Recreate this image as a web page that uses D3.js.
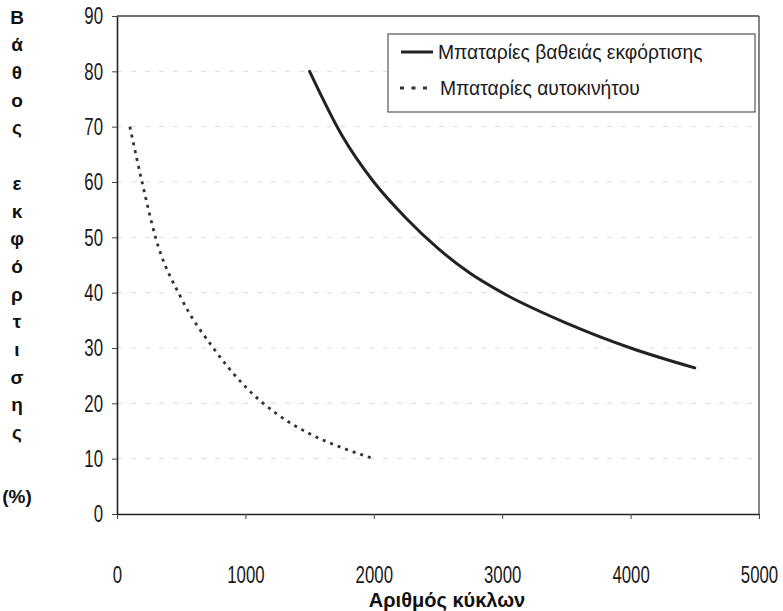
<!DOCTYPE html>
<html>
<head>
<meta charset="utf-8">
<script src="https://cdn.jsdelivr.net/npm/d3@7/dist/d3.min.js"></script>
<style>
  html, body { margin: 0; padding: 0; background: #fff; }
  svg { display: block; }
</style>
</head>
<body>
<svg id="chart" width="783" height="611"></svg>
<script>
// ---- data ----
const xTicks = [0, 1000, 2000, 3000, 4000, 5000];
const yTicks = [0, 10, 20, 30, 40, 50, 60, 70, 80, 90];
const deepCycles = [1500, 1750, 2000, 2250, 2500, 2750, 3000, 3500, 4000, 4500];
const deepDepth  = [80, 68.5, 60, 53.5, 48, 43.5, 40, 34.5, 30, 26.4];
const carCycles  = [100, 200, 300, 500, 750, 1000, 1250, 1500, 1750, 2000];
const carDepth   = [70, 59.5, 50, 39, 30, 23, 18, 14.5, 12, 10];
const seriesNames = ["Μπαταρίες βαθειάς εκφόρτισης", "Μπαταρίες αυτοκινήτου"];
const xTitle = "Αριθμός κύκλων";
const yTitleLines = ["Β","ά","θ","ο","ς","","ε","κ","φ","ό","ρ","τ","ι","σ","η","ς"];
const yUnit = "(%)";

// ---- layout ----
const W = 783, H = 611;
const m = { left: 117, top: 16, right: 24, bottom: 97 };
const iw = W - m.left - m.right, ih = H - m.top - m.bottom;

const svg = d3.select("#chart");
const g = svg.append("g").attr("transform", `translate(${m.left},${m.top})`);

const x = d3.scaleLinear().domain([0, 5000]).range([0, iw]);
const y = d3.scaleLinear().domain([0, 90]).range([ih, 0]);

// faint gridlines
g.append("g").selectAll("line")
  .data(yTicks.filter(v => v > 0 && v < 90))
  .join("line")
  .attr("x1", 0).attr("x2", iw)
  .attr("y1", d => y(d)).attr("y2", d => y(d))
  .attr("stroke", "#dcdcdc").attr("stroke-width", 1)
  .attr("stroke-dasharray", "5,9");

// frame top/right
g.append("line").attr("x1", 0).attr("x2", iw).attr("y1", 0).attr("y2", 0)
  .attr("stroke", "#444").attr("stroke-width", 1.3);
g.append("line").attr("x1", iw).attr("x2", iw).attr("y1", 0).attr("y2", ih)
  .attr("stroke", "#444").attr("stroke-width", 1.3);

const tickFont = "'Liberation Sans',Arial,sans-serif";
const sx = 0.7;

// axes
const fmt = d3.format("d");
const xAxis = g.append("g").attr("transform", `translate(0,${ih})`)
  .call(d3.axisBottom(x).tickValues(xTicks).tickFormat(fmt).tickSize(5).tickPadding(47).tickSizeOuter(0));
const yAxis = g.append("g")
  .call(d3.axisLeft(y).tickValues(yTicks).tickFormat(fmt).tickSize(5).tickPadding(9).tickSizeOuter(0));

[xAxis, yAxis].forEach(a => {
  a.select(".domain").attr("stroke", "#222").attr("stroke-width", 1.6);
  a.selectAll(".tick line").attr("stroke", "#444").attr("stroke-width", 1);
  a.selectAll(".tick text")
    .attr("fill", "#1a1a1a")
    .style("font-family", tickFont)
    .style("font-size", "24px")
    .attr("transform", `scale(${sx},1)`);
});
yAxis.selectAll(".tick text").attr("x", -14 / sx);

// lines
const deep = deepCycles.map((c, i) => [c, deepDepth[i]]);
const car = carCycles.map((c, i) => [c, carDepth[i]]);
const line = d3.line().x(d => x(d[0])).y(d => y(d[1])).curve(d3.curveMonotoneX);

g.append("path").datum(car).attr("d", line)
  .attr("fill", "none").attr("stroke", "#333").attr("stroke-width", 2.8)
  .attr("stroke-dasharray", "3,5");
g.append("path").datum(deep).attr("d", line)
  .attr("fill", "none").attr("stroke", "#222").attr("stroke-width", 3)
  .attr("stroke-linecap", "round");

// legend
const lg = svg.append("g").attr("transform", "translate(388,34)");
lg.append("rect").attr("width", 367).attr("height", 78)
  .attr("fill", "#fff").attr("stroke", "#555").attr("stroke-width", 1.2);
const legFont = "'Liberation Sans',Arial,sans-serif";
lg.append("line").attr("x1", 13).attr("x2", 45).attr("y1", 18).attr("y2", 18)
  .attr("stroke", "#222").attr("stroke-width", 3);
lg.append("line").attr("x1", 12).attr("x2", 40).attr("y1", 54).attr("y2", 54)
  .attr("stroke", "#333").attr("stroke-width", 3).attr("stroke-dasharray", "4,7.5");
lg.selectAll("text.leg").data(seriesNames).join("text")
  .attr("class", "leg")
  .attr("x", (d, i) => i === 0 ? 50 : 52)
  .attr("y", (d, i) => i === 0 ? 18 : 54)
  .attr("dy", "0.35em")
  .style("font-family", legFont).style("font-size", "19.3px")
  .attr("fill", "#1a1a1a")
  .text(d => d);

// x title
svg.append("text")
  .attr("x", 447).attr("y", 600).attr("dy", "0.35em")
  .attr("text-anchor", "middle")
  .style("font-family", legFont).style("font-size", "20px").style("font-weight", "bold")
  .attr("fill", "#111")
  .text(xTitle);

// y title (stacked letters)
svg.append("g").selectAll("text").data(yTitleLines).join("text")
  .attr("x", 17).attr("y", (d, i) => 17 + i * 27.7).attr("dy", "0.35em")
  .attr("text-anchor", "middle")
  .style("font-family", legFont).style("font-size", "19px").style("font-weight", "bold")
  .attr("fill", "#111")
  .text(d => d);
svg.append("text").attr("x", 17).attr("y", 496).attr("dy", "0.35em")
  .attr("text-anchor", "middle")
  .style("font-family", legFont).style("font-size", "19px").style("font-weight", "bold")
  .attr("fill", "#111")
  .text(yUnit);
</script>
</body>
</html>
